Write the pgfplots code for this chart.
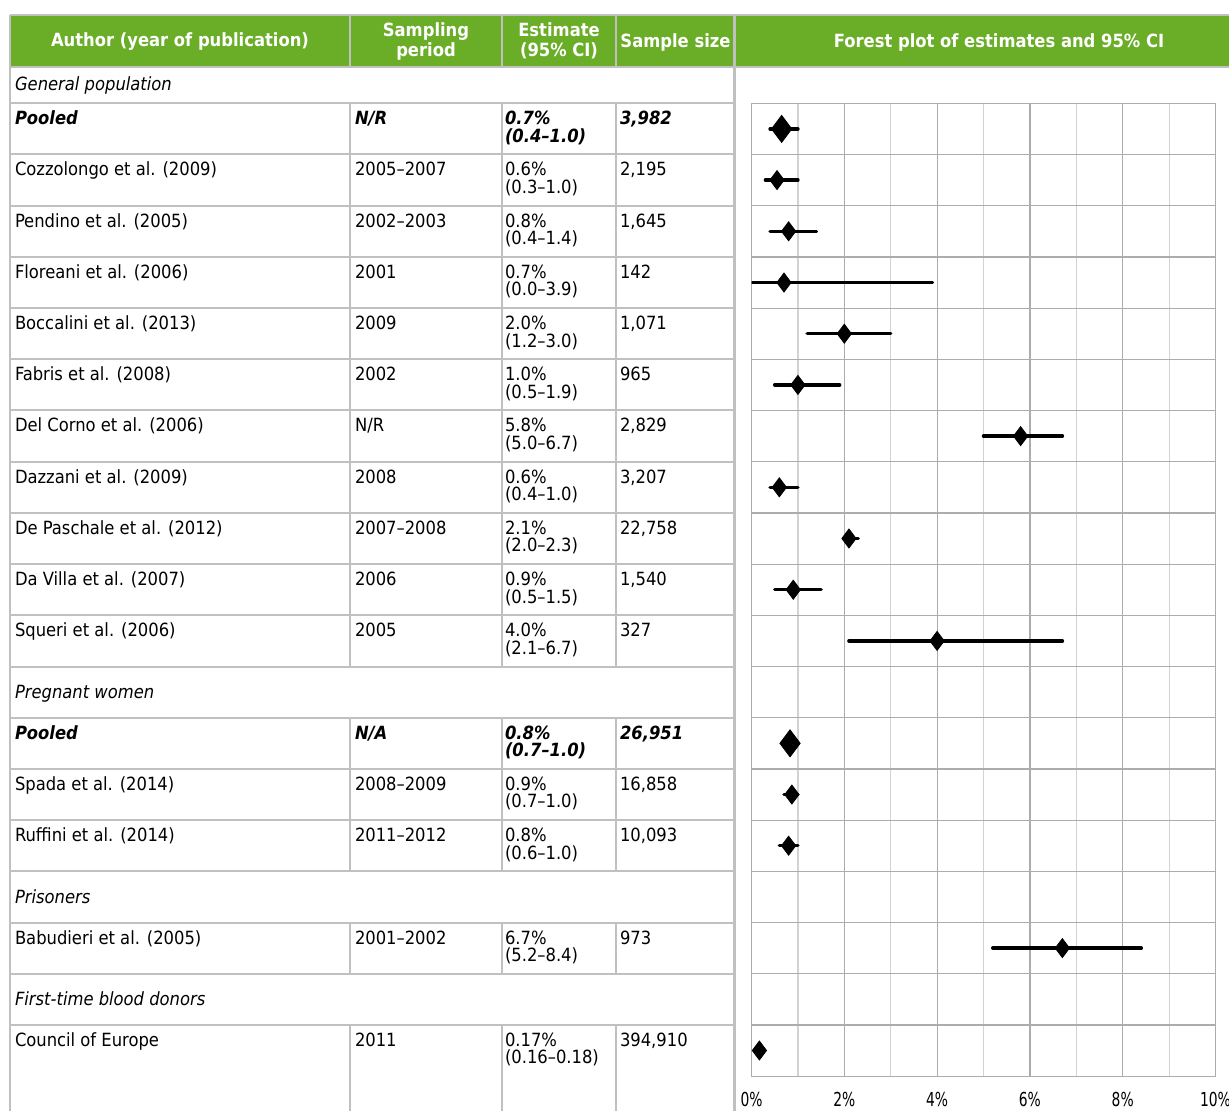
\documentclass[border=0pt]{standalone}
\usepackage{fontspec}
\IfFontExistsTF{DejaVu Sans Condensed}{%
  \setmainfont{DejaVu Sans Condensed}\def\fsz{9.1}\def\tsz{7.7}}{%
  \setmainfont{DejaVu Sans}\def\fsz{8.2}\def\tsz{6.9}}
\usepackage{pgfplots}
\usepackage{pgfplotstable}
\pgfplotsset{compat=1.18}
\definecolor{hdr}{RGB}{106,173,39}
\definecolor{tg}{RGB}{192,192,192}
\newcommand\tabfont{\fontsize{\fsz}{11}\selectfont}
\newcommand\tickfont{\fontsize{\tsz}{9}\selectfont}
% data row: [font] row-index author period estimate ci n
\newcommand\drow[7][]{%
  \pgfmathsetmacro\rt{103.3+51.2*#2}%
  \node[anchor=base west] at (15,-\rt-21.5) {#1#3};%
  \node[anchor=base west] at (355,-\rt-21.5) {#1#4};%
  \node[anchor=base west] at (505,-\rt-21.5) {#1#5};%
  \node[anchor=base west] at (505,-\rt-39) {#1#6};%
  \node[anchor=base west] at (620,-\rt-21.5) {#1#7};%
}
\newcommand\srow[2]{%
  \pgfmathsetmacro\rt{103.3+51.2*#1+25.6+6.5}%
  \node[anchor=base west] at (15,-\rt) {\itshape #2};%
}
% y = row centre (0 = top of plot), est, lower, upper
\pgfplotstableread{
y    est   lo    hi
1.5  0.55  0.3   1.0
2.5  0.8   0.4   1.4
3.5  0.7   0.0   3.9
4.5  2.0   1.2   3.0
5.5  1.0   0.5   1.9
6.5  5.8   5.0   6.7
7.5  0.6   0.4   1.0
8.5  2.1   2.0   2.3
9.5  0.9   0.5   1.5
10.5 4.0   2.1   6.7
13.5 0.87  0.7   1.0
14.5 0.8   0.6   1.0
16.5 6.7   5.2   8.4
18.5 0.17  0.16  0.18
}\studies
\pgfplotstableread{
y    est   lo    hi
0.5  0.65  0.4   1.0
12.5 0.83  0.7   1.0
}\pooled
\begin{document}
\begin{tikzpicture}[x=0.5pt,y=0.5pt,every node/.style={font=\tabfont,inner sep=0pt,outer sep=0pt}]
\useasboundingbox (0,0) rectangle (1229,-1111);
% ---- header
\fill[hdr] (10,-15) rectangle (1240,-67);
\draw[tg,line width=0.75pt] (10,-15) -- (1240,-15);
\draw[tg,line width=1pt] (10,-67) -- (1240,-67);
\foreach \x in {350,502,616} \draw[tg,line width=1pt] (\x,-15) -- (\x,-67);
\draw[tg,line width=1.25pt] (734.5,-15) -- (734.5,-1115);
\draw[tg,line width=1pt] (10,-15) -- (10,-1115);
\begin{scope}[every node/.style={font=\tabfont\bfseries,text=white,inner sep=0pt}]
\node[anchor=base] at (180,-47) {Author (year of publication)};
\node[anchor=base] at (426,-37) {Sampling};
\node[anchor=base] at (426,-57) {period};
\node[anchor=base] at (559,-37) {Estimate};
\node[anchor=base] at (559,-57) {(95\% CI)};
\node[anchor=base] at (675.5,-48) {Sample size};
\node[anchor=base] at (999,-48) {Forest plot of estimates and 95\% CI};
\end{scope}
% ---- table grid
\foreach \k in {0,...,18} {
  \pgfmathsetmacro\yy{103.3+51.2*\k}
  \draw[tg,line width=1pt] (10,-\yy) -- (734.5,-\yy);
}
\foreach \x in {350,502,616} {
  \draw[tg,line width=1pt] (\x,-103.3) -- (\x,-666.5);
  \draw[tg,line width=1pt] (\x,-717.7) -- (\x,-871.3);
  \draw[tg,line width=1pt] (\x,-922.5) -- (\x,-973.7);
  \draw[tg,line width=1pt] (\x,-1024.9) -- (\x,-1115);
}
% ---- table text
\node[anchor=base west] at (15,-91) {\itshape General population};
\drow[\bfseries\itshape]{0}{Pooled}{N/R}{0.7\%}{(0.4--1.0)}{3,982}
\drow{1}{Cozzolongo et al. (2009)}{2005--2007}{0.6\%}{(0.3--1.0)}{2,195}
\drow{2}{Pendino et al. (2005)}{2002--2003}{0.8\%}{(0.4--1.4)}{1,645}
\drow{3}{Floreani et al. (2006)}{2001}{0.7\%}{(0.0--3.9)}{142}
\drow{4}{Boccalini et al. (2013)}{2009}{2.0\%}{(1.2--3.0)}{1,071}
\drow{5}{Fabris et al. (2008)}{2002}{1.0\%}{(0.5--1.9)}{965}
\drow{6}{Del Corno et al. (2006)}{N/R}{5.8\%}{(5.0--6.7)}{2,829}
\drow{7}{Dazzani et al. (2009)}{2008}{0.6\%}{(0.4--1.0)}{3,207}
\drow{8}{De Paschale et al. (2012)}{2007--2008}{2.1\%}{(2.0--2.3)}{22,758}
\drow{9}{Da Villa et al. (2007)}{2006}{0.9\%}{(0.5--1.5)}{1,540}
\drow{10}{Squeri et al. (2006)}{2005}{4.0\%}{(2.1--6.7)}{327}
\srow{11}{Pregnant women}
\drow[\bfseries\itshape]{12}{Pooled}{N/A}{0.8\%}{(0.7--1.0)}{26,951}
\drow{13}{Spada et al. (2014)}{2008--2009}{0.9\%}{(0.7--1.0)}{16,858}
\drow{14}{Ruffini et al. (2014)}{2011--2012}{0.8\%}{(0.6--1.0)}{10,093}
\srow{15}{Prisoners}
\drow{16}{Babudieri et al. (2005)}{2001--2002}{6.7\%}{(5.2--8.4)}{973}
\srow{17}{First-time blood donors}
\drow{18}{Council of Europe}{2011}{0.17\%}{(0.16--0.18)}{394,910}
% ---- forest plot
\begin{axis}[
  at={(375.75pt,-538.05pt)}, anchor=south west,
  scale only axis, width=232pt, height=486.4pt,
  xmin=0, xmax=10, ymin=0, ymax=19, y dir=reverse,
  xtick={0,2,4,6,8,10}, minor xtick={1,3,5,7,9},
  ytick={0,1,...,19}, yticklabels={},
  xmajorgrids, xminorgrids, ymajorgrids,
  major grid style={draw=gray!65, line width=0.6pt},
  minor grid style={draw=gray!35, line width=0.6pt},
  axis line style={draw=gray!65, line width=0.6pt},
  major tick length=0pt, minor tick length=0pt,
  /pgf/number format/assume math mode=true,
  xticklabel={\scalebox{1}[1.25]{\pgfmathprintnumber{\tick}\%}},
  xticklabel style={font=\tickfont, anchor=north, inner sep=0pt, yshift=-8pt},
]
\addplot[black, only marks, mark=diamond*, mark size=4.75pt,
  error bars/.cd, x dir=both, x explicit, error mark=none,
  error bar style={line width=1.75pt, line cap=round, black}]
  table[x=est, y=y, x error plus expr=\thisrow{hi}-\thisrow{est},
        x error minus expr=\thisrow{est}-\thisrow{lo}] {\studies};
\addplot[black, only marks, mark=diamond*, mark size=6.75pt,
  error bars/.cd, x dir=both, x explicit, error mark=none,
  error bar style={line width=1.75pt, line cap=round, black}]
  table[x=est, y=y, x error plus expr=\thisrow{hi}-\thisrow{est},
        x error minus expr=\thisrow{est}-\thisrow{lo}] {\pooled};
\end{axis}
\end{tikzpicture}
\end{document}
